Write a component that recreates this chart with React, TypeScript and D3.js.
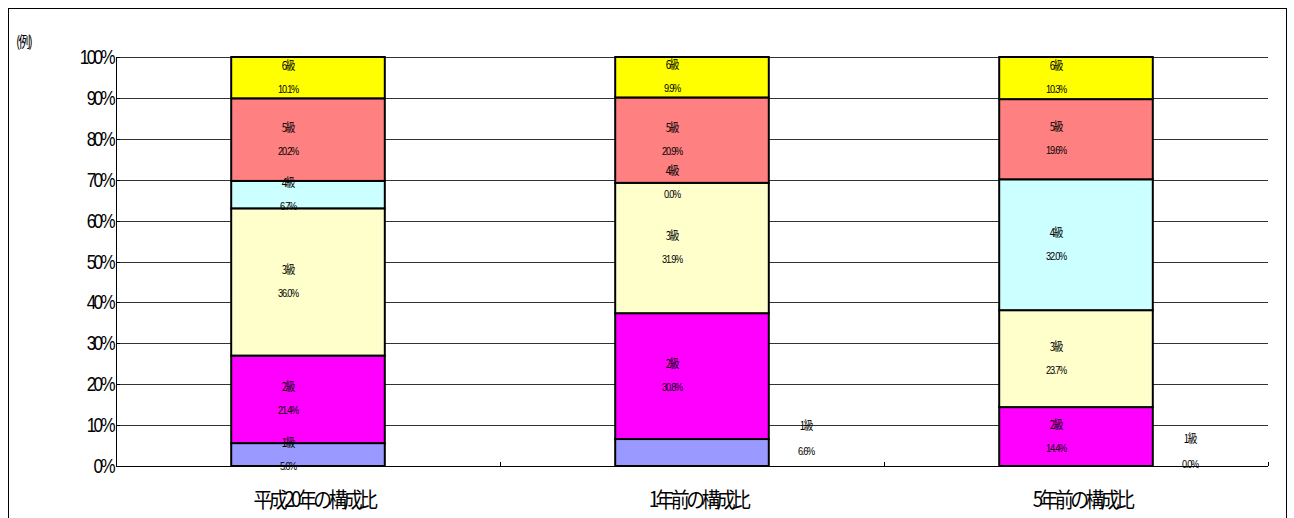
import React from "react";
import * as d3 from "d3";

const categories = ["平成20年の構成比", "1年前の構成比", "5年前の構成比"];
const grades = ["1級", "2級", "3級", "4級", "5級", "6級"];
const grade1 = [5.6, 6.6, 0.0];
const grade2 = [21.4, 30.8, 14.4];
const grade3 = [36.0, 31.9, 23.7];
const grade4 = [6.7, 0.0, 32.0];
const grade5 = [20.2, 20.9, 19.6];
const grade6 = [10.1, 9.9, 10.3];
const yTicks = [0, 0.1, 0.2, 0.3, 0.4, 0.5, 0.6, 0.7, 0.8, 0.9, 1.0];
const gradeColors = ["#9999FF", "#FF00FF", "#FFFFCC", "#CCFFFF", "#FF8080", "#FFFF00"];
const grade1Outside = [false, true, true];

const W = 1294;
const H = 518;
const FONT = "'Liberation Sans', Arial, 'Noto Sans CJK JP', sans-serif";
const JFONT = "'Noto Sans CJK JP', 'Liberation Sans', sans-serif";

function CText(props: {
  x: number; y: number; sx: number; size: number; anchor?: string; children: any; family?: string; ls?: number;
}) {
  const { x, y, sx, size, anchor = "middle", children, family = FONT, ls = 0 } = props;
  return (
    <text
      transform={`translate(${x},${y}) scale(${sx},1)`}
      fontSize={size}
      fontFamily={family}
      textAnchor={anchor}
      letterSpacing={ls}
      fill="#000"
    >
      {children}
    </text>
  );
}

export default function App() {
  const seriesValues = [grade1, grade2, grade3, grade4, grade5, grade6];
  const rows = categories.map((c, i) => {
    const r: any = { cat: c };
    grades.forEach((g, k) => (r[g] = seriesValues[k][i]));
    return r;
  });
  const stacked = d3.stack().keys(grades).offset(d3.stackOffsetExpand)(rows);

  const x = d3.scaleBand<string>().domain(categories).range([116, 1268]).paddingInner(0.6).paddingOuter(0.3);
  const y = d3.scaleLinear().domain([0, 1]).range([466, 57]);
  const step = x.step();

  return (
    <svg width={W} height={H} style={{ display: "block", position: "absolute", left: 0, top: 0 }}>
      <rect x={0} y={0} width={W} height={H} fill="#fff" />
      <rect x={8.5} y={8.5} width={1278} height={530} fill="none" stroke="#000" strokeWidth={1} />
      <CText x={16} y={47} sx={0.8} size={15} anchor="start" family={JFONT} ls={-2}>(例)</CText>

      {yTicks.map((t) => (
        <line key={"g" + t} x1={116} x2={1268} y1={Math.round(y(t)) + 0.5} y2={Math.round(y(t)) + 0.5}
          stroke="#333" strokeWidth={1} />
      ))}
      {yTicks.map((t) => (
        <line key={"tk" + t} x1={116} x2={120} y1={Math.round(y(t)) + 0.5} y2={Math.round(y(t)) + 0.5} stroke="#000" />
      ))}
      {yTicks.map((t) => (
        <CText key={"yl" + t} x={113} y={y(t) + 7} sx={0.85} size={20} anchor="end" ls={-3}>
          {d3.format(".0%")(t)}
        </CText>
      ))}
      <line x1={116.5} x2={116.5} y1={57} y2={466} stroke="#000" />
      <line x1={116} x2={1268} y1={466.5} y2={466.5} stroke="#000" />
      {[0, 1, 2, 3].map((i) => (
        <line key={"ct" + i} x1={116 + step * i + 0.5} x2={116 + step * i + 0.5} y1={462} y2={466}
          stroke="#000" />
      ))}

      {stacked.map((s, k) =>
        s.map((d, i) => {
          const x0 = x(categories[i])!;
          return (
            <rect key={k + "-" + i} x={x0} y={y(d[1])} width={x.bandwidth()}
              height={Math.max(0, y(d[0]) - y(d[1]))} fill={gradeColors[k]} stroke="#000" strokeWidth={2} />
          );
        })
      )}

      {stacked.map((s, k) =>
        s.map((d, i) => {
          const cx = x(categories[i])! + x.bandwidth() / 2;
          const cy = (y(d[0]) + y(d[1])) / 2;
          const v = seriesValues[k][i];
          if (k === 0 && grade1Outside[i]) {
            const lx = cx + 114;
            return (
              <g key={"l" + k + "-" + i}>
                <CText x={lx} y={cy - 23} sx={0.8} size={12} family={JFONT} ls={-1.5}>{grades[k]}</CText>
                <CText x={lx} y={cy + 2} sx={0.8} size={11.5} ls={-1.5}>{v.toFixed(1) + "%"}</CText>
              </g>
            );
          }
          const lx = cx - 20;
          return (
            <g key={"l" + k + "-" + i}>
              <CText x={lx} y={cy - 8} sx={0.8} size={12} family={JFONT} ls={-1.5}>{grades[k]}</CText>
              <CText x={lx} y={cy + 15} sx={0.8} size={11.5} ls={-1.5}>{v.toFixed(1) + "%"}</CText>
            </g>
          );
        })
      )}

      {categories.map((c) => (
        <CText key={c} x={x(c)! + x.bandwidth() / 2 + 6} y={507} sx={0.9} size={21} family={JFONT} ls={-4}>{c}</CText>
      ))}
    </svg>
  );
}
